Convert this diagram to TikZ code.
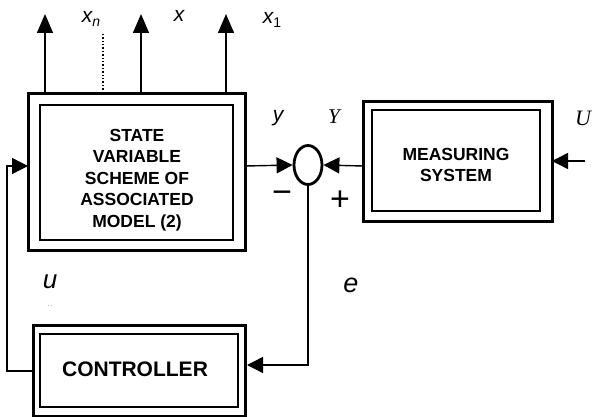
\documentclass[tikz,border=0pt]{standalone}
\usepackage{fontspec}
\setmainfont{Liberation Sans}
\newfontfamily\serifit{Liberation Serif}[ItalicFont=* Italic]
\usetikzlibrary{arrows.meta,shapes.geometric}
\tikzset{
  outerbox/.style={draw, line width=3pt},
  innerbox/.style={draw, line width=1.4pt},
  conn/.style={line width=1.4pt},
  arr/.style={conn, -{Triangle[length=16pt,width=16pt]}},
  uparr/.style={conn, -{Triangle[length=19pt,width=16pt]}},
  boxtext/.style={font=\fontsize{17.5}{21.5}\selectfont\bfseries, align=center},
  lbl/.style={font=\fontsize{21}{21}\selectfont\itshape, inner sep=0pt},
}
\begin{document}
\begin{tikzpicture}[x=1pt,y=-1pt]
\useasboundingbox (0,0) rectangle (592,417);
% main box
\draw[outerbox] (28,94) rectangle (245,250);
\draw[innerbox] (40,105) rectangle (233,240);
\node[boxtext] (main) at (137,180) {STATE\\VARIABLE\\SCHEME OF\\ASSOCIATED\\MODEL (2)};
\coordinate (mainR) at (245,166);
\coordinate (mainL) at (28,166);
% measuring box
\draw[outerbox] (363,102) rectangle (552,221);
\draw[innerbox] (372,110) rectangle (540,211);
\node[boxtext] (meas) at (456,165) {MEASURING\\SYSTEM};
\coordinate (measL) at (363,166);
\coordinate (measR) at (552,161);
\coordinate (inU) at (585,161);
% controller
\draw[outerbox] (33,325) rectangle (245,416);
\draw[innerbox] (40,334) rectangle (238,407);
\node[boxtext, font=\fontsize{21}{25}\selectfont\bfseries] (ctrl) at (135,369) {CONTROLLER};
\coordinate (ctrlR) at (247,365);
\coordinate (ctrlL) at (33,371);
% summing junction
\node[draw, ellipse, line width=2.8pt, minimum width=28pt, minimum height=39pt, inner sep=0pt] (sum) at (308,165) {};
% outputs
\coordinate (o1b) at (45,94);  \coordinate (o1t) at (45,14);
\coordinate (o2b) at (141,94); \coordinate (o2t) at (141,14);
\coordinate (o3b) at (226,94); \coordinate (o3t) at (226,14);
\draw[uparr] (o1b) -- (o1t);
\draw[uparr] (o2b) -- (o2t);
\draw[uparr] (o3b) -- (o3t);
\coordinate (dotb) at (103,93); \coordinate (dott) at (103,32);
\draw[line width=1.4pt, dotted] (dotb) -- (dott);
% connections
\draw[arr] (mainR) -- (sum.west);
\draw[arr] (measL) -- (sum.east);
\draw[arr] (inU) -- (measR);
\coordinate (c1) at (308,365);
\draw[arr] (sum.south) -- (c1) -- (ctrlR);
\coordinate (f1) at (7,371);
\coordinate (f2) at (7,166);
\draw[arr] (ctrlL) -- (f1) -- (f2) -- (mainL);
% labels
\node[lbl] (lxn) at (91,19) {x\raisebox{-4pt}{\fontsize{14}{14}\selectfont n}};
\node[lbl] (lx) at (179,16) {x};
\node[lbl] (lx1) at (272,20) {x\raisebox{-4pt}{\upshape\fontsize{14}{14}\selectfont 1}};
\node[lbl, font=\fontsize{21}{21}\selectfont\itshape] (ly) at (278,118) {y};
\node[lbl, font=\fontsize{21}{21}\selectfont\serifit\itshape] (lY) at (334,117) {Y};
\node[lbl, font=\fontsize{22}{22}\selectfont\serifit\itshape, anchor=west] (lU) at (575,118) {U};
\node[lbl, font=\fontsize{26}{26}\selectfont\itshape] (lu) at (50,282) {u};
\node[lbl, font=\fontsize{5}{5}\selectfont] (ldots) at (50,306) {. .};
\node[lbl, font=\fontsize{27}{27}\selectfont\itshape] (le) at (351,285) {e};
\node[lbl, font=\fontsize{34}{34}\selectfont] (lminus) at (282,197) {−};
\node[lbl, font=\fontsize{34}{34}\selectfont] (lplus) at (340,201) {+};
\end{tikzpicture}
\end{document}
